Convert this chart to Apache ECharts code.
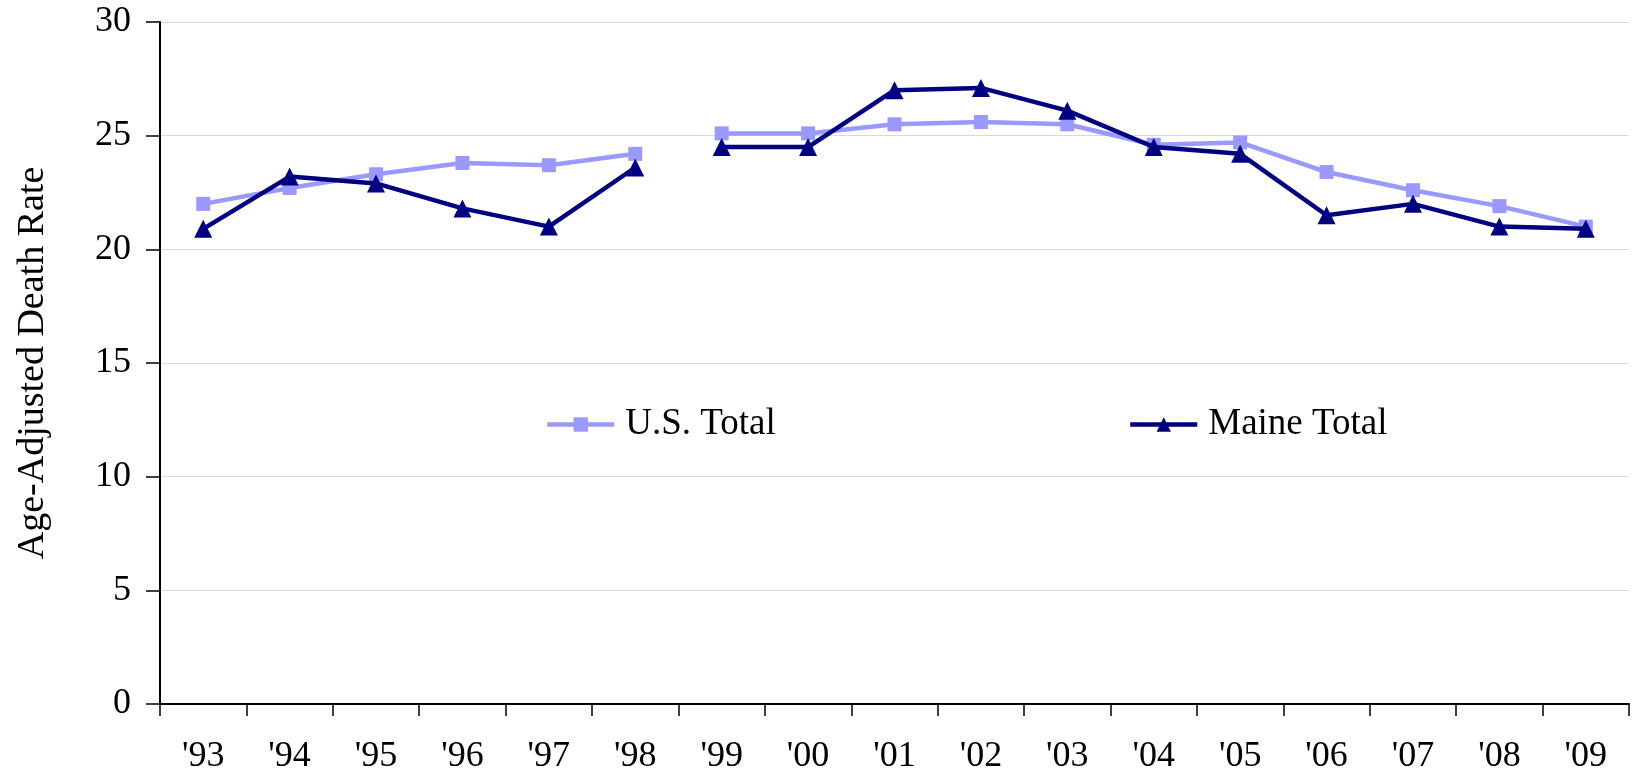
<!DOCTYPE html>
<html>
<head>
<meta charset="utf-8">
<script src="https://cdn.jsdelivr.net/npm/echarts@6/dist/echarts.min.js"></script>
<style>
html,body{margin:0;padding:0;background:#fff;}
#chart{width:1637px;height:775px;}
</style>
</head>
<body>
<div id="chart"></div>
<script>
const categories = ["'93","'94","'95","'96","'97","'98","'99","'00","'01","'02","'03","'04","'05","'06","'07","'08","'09"];
const usTotal    = [22.0, 22.7, 23.3, 23.8, 23.7, 24.2, 25.1, 25.1, 25.5, 25.6, 25.5, 24.6, 24.7, 23.4, 22.6, 21.9, 21.0];
const maineTotal = [20.9, 23.2, 22.9, 21.8, 21.0, 23.6, 24.5, 24.5, 27.0, 27.1, 26.1, 24.5, 24.2, 21.5, 22.0, 21.0, 20.9];
const breakIndex = 6; // line break between '98 and '99
const yTicks = [0, 5, 10, 15, 20, 25, 30];

const FONT = "'Liberation Serif', 'Times New Roman', serif";
const US_COLOR = '#9999FF';
const ME_COLOR = '#000080';

function part(arr, first) {
  return arr.map((v, i) => (first ? (i < breakIndex ? v : null) : (i >= breakIndex ? v : null)));
}
function mkSeries(name, arr, color, symbol, size, z) {
  return [true, false].map(first => ({
    name: name,
    type: 'line',
    data: part(arr, first),
    connectNulls: false,
    symbol: symbol,
    symbolSize: size,
    showAllSymbol: true,
    z: z,
    lineStyle: { color: color, width: 4.5 },
    itemStyle: { color: color },
    emphasis: { disabled: true },
    animation: false
  }));
}

const legendCommon = {
  top: 406, padding: 0,
  itemWidth: 67, itemHeight: 18, itemGap: 0,
  lineStyle: { width: 4.5 },
  textStyle: { fontFamily: FONT, fontSize: 37, color: '#000', padding: [0, 0, 0, 6] }
};

const chart = echarts.init(document.getElementById('chart'), null, { renderer: 'canvas' });
chart.setOption({
  animation: false,
  textStyle: { fontFamily: FONT },
  grid: { left: 160, right: 8, top: 22, bottom: 70, containLabel: false },
  legend: [
    Object.assign({ data: ['U.S. Total'], left: 545 }, legendCommon),
    Object.assign({ data: ['Maine Total'], left: 1128 }, legendCommon)
  ],
  xAxis: {
    type: 'category',
    data: categories,
    boundaryGap: true,
    axisLine: { show: true, lineStyle: { color: '#000', width: 2 } },
    axisTick: { show: true, inside: false, length: 12, lineStyle: { color: '#000', width: 1.5 } },
    axisLabel: { fontFamily: FONT, fontSize: 36, color: '#000', margin: 35, interval: 0 },
    splitLine: { show: false }
  },
  yAxis: {
    type: 'value',
    min: yTicks[0],
    max: yTicks[yTicks.length - 1],
    interval: 5,
    name: 'Age-Adjusted Death Rate',
    nameLocation: 'middle',
    nameGap: 108,
    nameRotate: 90,
    nameTextStyle: { fontFamily: FONT, fontSize: 38, color: '#000', padding: [0, 0, 0, 0] },
    axisLine: { show: true, lineStyle: { color: '#000', width: 2 } },
    axisTick: { show: true, inside: false, length: 14, lineStyle: { color: '#000', width: 1.5 } },
    axisLabel: { fontFamily: FONT, fontSize: 36, color: '#000', margin: 29 },
    splitLine: { show: true, lineStyle: { color: '#d9d9d9', width: 1 } }
  },
  series: [
    ...mkSeries('U.S. Total', usTotal, US_COLOR, 'rect', 14, 2),
    ...mkSeries('Maine Total', maineTotal, ME_COLOR, 'triangle', 18, 3)
  ]
});
</script>
</body>
</html>
